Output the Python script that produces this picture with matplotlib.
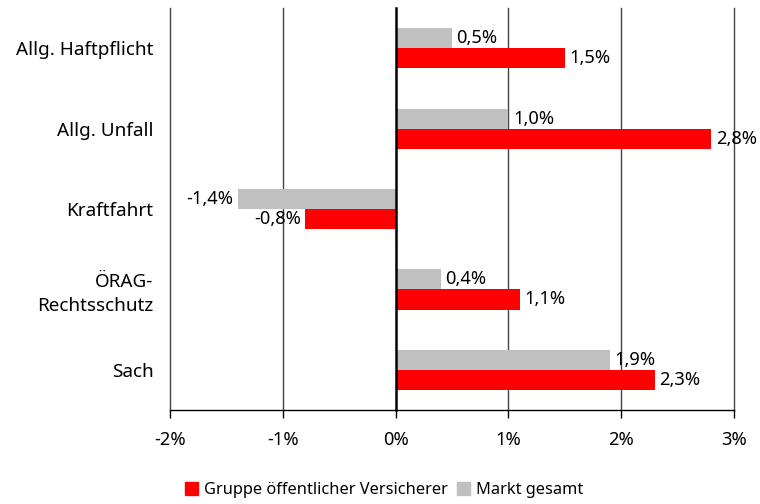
import numpy as np
import matplotlib
matplotlib.use('Agg')
import matplotlib.pyplot as plt
from matplotlib.patches import Patch

categories = ['Allg. Haftpflicht', 'Allg. Unfall', 'Kraftfahrt', 'ÖRAG-\nRechtsschutz', 'Sach']
markt = [0.5, 1.0, -1.4, 0.4, 1.9]
gruppe = [1.5, 2.8, -0.8, 1.1, 2.3]
xticks = [-2, -1, 0, 1, 2, 3]

plt.rcParams['font.family'] = ['Noto Sans', 'DejaVu Sans']

fig = plt.figure(figsize=(7.6, 5.04), dpi=100)
ax = fig.add_axes([170 / 760, 1 - 410 / 504, 564 / 760, 402 / 504])

y = np.arange(len(categories))
h = 0.25
red = '#ff0000'
grey = '#c0c0c0'
ax.barh(y - h / 2, markt, height=h, color=grey, zorder=3)
ax.barh(y + h / 2, gruppe, height=h, color=red, zorder=3)

def fmt(v):
    return f'{v:.1f}%'.replace('.', ',')

for yy, vals in [(y - h / 2, markt), (y + h / 2, gruppe)]:
    for yi, v in zip(yy, vals):
        off = 0.04 if v >= 0 else -0.04
        ax.text(v + off, yi, fmt(v), ha='left' if v >= 0 else 'right',
                va='center', fontsize=13.2, zorder=4)

ax.set_ylim(len(categories) - 0.5, -0.5)
ax.set_xlim(-2, 3)
ax.set_xticks(xticks)
ax.set_xticklabels([f'{t}%' for t in xticks], fontsize=13.2)
ax.set_yticks(y)
ax.set_yticklabels(categories, fontsize=13.6, linespacing=1.4)
ax.tick_params(axis='y', length=0, pad=12)
ax.tick_params(axis='x', length=6, width=1, pad=9, direction='out')

for t in xticks:
    ax.axvline(t, color='black' if t == 0 else '#444444',
               lw=1.8 if t == 0 else 1.0, zorder=2 if t != 0 else 5,
               clip_on=False)

for s in ['top', 'right', 'left']:
    ax.spines[s].set_visible(False)
ax.spines['bottom'].set_linewidth(1.0)

handles = [Patch(color=red, label='Gruppe öffentlicher Versicherer'),
           Patch(color=grey, label='Markt gesamt')]
fig.legend(handles=handles, loc='center', bbox_to_anchor=(384 / 760, 1 - 490 / 504),
           ncol=2, frameon=False, fontsize=11.8, handlelength=0.8, handleheight=0.8,
           handletextpad=0.35, columnspacing=0.6)

fig.savefig('out.png', dpi=100)
